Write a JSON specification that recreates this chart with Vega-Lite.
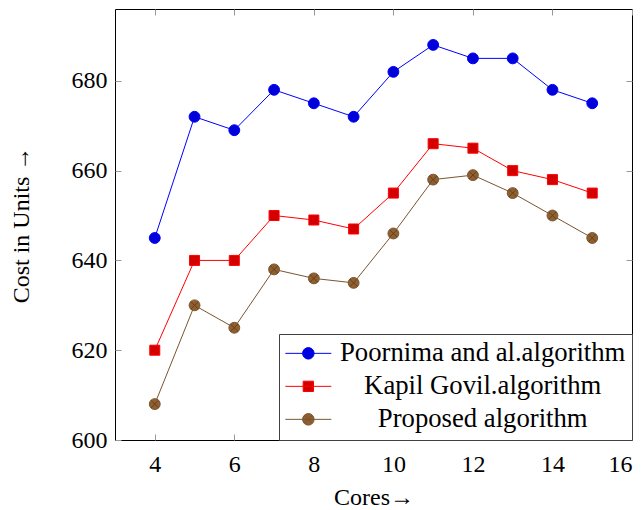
{
  "$schema": "https://vega.github.io/schema/vega-lite/v6.json",
  "width": 517,
  "height": 431,
  "autosize": {"type": "none"},
  "padding": {"left": 115, "top": 9, "right": 11, "bottom": 70},
  "background": "white",
  "config": {
    "view": {"stroke": "black", "strokeWidth": 1},
    "font": "Liberation Serif",
    "axis": {
      "labelFont": "Liberation Serif",
      "labelFontSize": 24,
      "labelColor": "black",
      "titleFont": "Liberation Serif",
      "titleFontSize": 24,
      "titleFontWeight": "normal",
      "titleColor": "black",
      "domain": false,
      "grid": false,
      "tickColor": "#999999",
      "tickSize": -6,
      "tickWidth": 1
    },
    "legend": {
      "labelFont": "Liberation Serif",
      "labelFontSize": 26.7,
      "labelColor": "black",
      "labelLimit": 0
    }
  },
  "data": {
    "values": [
      {"series": "Poornima and al.algorithm", "cores": 4, "cost": 645},
      {"series": "Poornima and al.algorithm", "cores": 5, "cost": 672},
      {"series": "Poornima and al.algorithm", "cores": 6, "cost": 669},
      {"series": "Poornima and al.algorithm", "cores": 7, "cost": 678},
      {"series": "Poornima and al.algorithm", "cores": 8, "cost": 675},
      {"series": "Poornima and al.algorithm", "cores": 9, "cost": 672},
      {"series": "Poornima and al.algorithm", "cores": 10, "cost": 682},
      {"series": "Poornima and al.algorithm", "cores": 11, "cost": 688},
      {"series": "Poornima and al.algorithm", "cores": 12, "cost": 685},
      {"series": "Poornima and al.algorithm", "cores": 13, "cost": 685},
      {"series": "Poornima and al.algorithm", "cores": 14, "cost": 678},
      {"series": "Poornima and al.algorithm", "cores": 15, "cost": 675},
      {"series": "Kapil Govil.algorithm", "cores": 4, "cost": 620},
      {"series": "Kapil Govil.algorithm", "cores": 5, "cost": 640},
      {"series": "Kapil Govil.algorithm", "cores": 6, "cost": 640},
      {"series": "Kapil Govil.algorithm", "cores": 7, "cost": 650},
      {"series": "Kapil Govil.algorithm", "cores": 8, "cost": 649},
      {"series": "Kapil Govil.algorithm", "cores": 9, "cost": 647},
      {"series": "Kapil Govil.algorithm", "cores": 10, "cost": 655},
      {"series": "Kapil Govil.algorithm", "cores": 11, "cost": 666},
      {"series": "Kapil Govil.algorithm", "cores": 12, "cost": 665},
      {"series": "Kapil Govil.algorithm", "cores": 13, "cost": 660},
      {"series": "Kapil Govil.algorithm", "cores": 14, "cost": 658},
      {"series": "Kapil Govil.algorithm", "cores": 15, "cost": 655},
      {"series": "Proposed algorithm", "cores": 4, "cost": 608},
      {"series": "Proposed algorithm", "cores": 5, "cost": 630},
      {"series": "Proposed algorithm", "cores": 6, "cost": 625},
      {"series": "Proposed algorithm", "cores": 7, "cost": 638},
      {"series": "Proposed algorithm", "cores": 8, "cost": 636},
      {"series": "Proposed algorithm", "cores": 9, "cost": 635},
      {"series": "Proposed algorithm", "cores": 10, "cost": 646},
      {"series": "Proposed algorithm", "cores": 11, "cost": 658},
      {"series": "Proposed algorithm", "cores": 12, "cost": 659},
      {"series": "Proposed algorithm", "cores": 13, "cost": 655},
      {"series": "Proposed algorithm", "cores": 14, "cost": 650},
      {"series": "Proposed algorithm", "cores": 15, "cost": 645}
    ]
  },
  "layer": [
    {
      "mark": {"type": "line", "strokeWidth": 1},
      "encoding": {
        "x": {
          "field": "cores", "type": "quantitative",
          "scale": {"domain": [3, 16], "nice": false, "zero": false},
          "axis": {"values": [4, 6, 8, 10, 12, 14, 16], "title": "Cores→", "labelPadding": 18, "titlePadding": 9}
        },
        "y": {
          "field": "cost", "type": "quantitative",
          "scale": {"domain": [600, 696], "nice": false, "zero": false},
          "axis": {"values": [600, 620, 640, 660, 680], "title": "Cost in Units →", "labelPadding": 14, "titlePadding": 38}
        },
        "color": {
          "field": "series", "type": "nominal",
          "scale": {
            "domain": ["Poornima and al.algorithm", "Kapil Govil.algorithm", "Proposed algorithm"],
            "range": ["#0000ff", "#ff0000", "#7a5530"]
          },
          "legend": {
            "title": null,
            "orient": "bottom-right",
            "offset": 0,
            "strokeColor": "#404040",
            "fillColor": "white",
            "padding": 6,
            "symbolSize": 132,
            "symbolOffset": 10,
            "labelAlign": "center",
            "labelOffset": 161,
            "labelLimit": 0,
            "rowPadding": 5,
            "encode": {
              "symbols": {
                "update": {
                  "shape": {"signal": "datum.value === 'Kapil Govil.algorithm' ? 'M-4,0H4M-0.9,-0.9H0.9V0.9H-0.9Z' : datum.value === 'Proposed algorithm' ? 'M-4,0H4M1,0A1,1,0,1,1,-1,0A1,1,0,1,1,1,0ZM-0.7,-0.7L0.7,0.7M-0.7,0.7L0.7,-0.7' : 'M-4,0H4M1,0A1,1,0,1,1,-1,0A1,1,0,1,1,1,0Z'"},
                  "fill": {"signal": "datum.value === 'Kapil Govil.algorithm' ? '#d40000' : datum.value === 'Proposed algorithm' ? '#8f5f2f' : '#0000d9'"},
                  "stroke": {"signal": "datum.value === 'Kapil Govil.algorithm' ? '#ff0000' : datum.value === 'Proposed algorithm' ? '#7a5530' : '#0000ff'"},
                  "strokeWidth": {"value": 1},
                  "opacity": {"value": 1},
                  "fillOpacity": {"value": 1}
                }
              }
            }
          }
        }
      }
    },
    {
      "transform": [{"filter": "datum.series !== 'Kapil Govil.algorithm'"}],
      "mark": {"type": "point", "shape": "circle", "filled": true, "opacity": 1, "strokeWidth": 1, "size": 118},
      "encoding": {
        "x": {
          "field": "cores", "type": "quantitative",
          "axis": {"orient": "top", "values": [4, 6, 8, 10, 12, 14, 16], "labels": false, "title": null}
        },
        "y": {
          "field": "cost", "type": "quantitative",
          "axis": {"orient": "right", "values": [600, 620, 640, 660, 680], "labels": false, "title": null}
        },
        "fill": {
          "field": "series", "type": "nominal",
          "scale": {
            "domain": ["Poornima and al.algorithm", "Kapil Govil.algorithm", "Proposed algorithm"],
            "range": ["#0000d9", "#d40000", "#8f5f2f"]
          },
          "legend": null
        },
        "stroke": {
          "field": "series", "type": "nominal",
          "scale": {
            "domain": ["Poornima and al.algorithm", "Kapil Govil.algorithm", "Proposed algorithm"],
            "range": ["#0000ff", "#ff0000", "#7a5530"]
          },
          "legend": null
        }
      }
    },
    {
      "transform": [{"filter": "datum.series === 'Kapil Govil.algorithm'"}],
      "mark": {"type": "point", "shape": "square", "filled": true, "opacity": 1, "strokeWidth": 1, "size": 100, "fill": "#d40000", "stroke": "#ff0000"},
      "encoding": {
        "x": {"field": "cores", "type": "quantitative", "axis": null},
        "y": {"field": "cost", "type": "quantitative", "axis": null}
      }
    },
    {
      "transform": [{"filter": "datum.series === 'Proposed algorithm'"}],
      "mark": {"type": "point", "shape": "M-0.7,-0.7L0.7,0.7M-0.7,0.7L0.7,-0.7", "stroke": "#5a3a1a", "strokeWidth": 0.8, "size": 118, "opacity": 1, "filled": false},
      "encoding": {
        "x": {"field": "cores", "type": "quantitative", "axis": null},
        "y": {"field": "cost", "type": "quantitative", "axis": null}
      }
    }
  ],
  "resolve": {"axis": {"x": "independent", "y": "independent"}}
}
